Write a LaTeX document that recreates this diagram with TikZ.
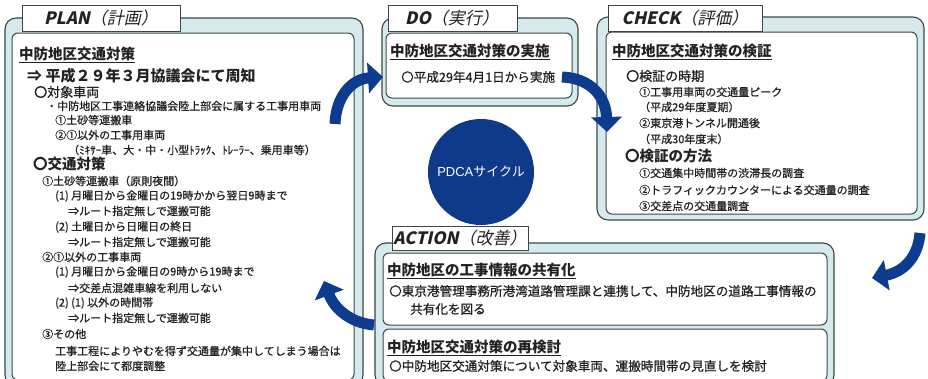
\documentclass[tikz,border=0pt]{standalone}
\usepackage{fontspec}
\setmainfont{Noto Sans CJK JP}
\newfontfamily\bodyfont{Noto Sans CJK JP}[FakeBold=0.8]
\newfontfamily\titlefont{Noto Sans CJK JP}[FakeSlant=0.22]
\newfontfamily\latinfont{Liberation Sans}
\usetikzlibrary{arrows.meta}
\definecolor{boxfill}{HTML}{D5EAEC}
\definecolor{boxline}{HTML}{3C4648}
\definecolor{arrowblue}{HTML}{0D3C8E}
\definecolor{circblue}{HTML}{0F3A8A}
\definecolor{ink}{HTML}{222222}
\begin{document}
\begin{tikzpicture}[x=1pt,y=-1pt,
  outerbox/.style={draw=boxline, fill=boxfill, line width=1.1pt, rounded corners=11pt},
  innerbox/.style={draw=boxline, fill=white, line width=1pt, rounded corners=6pt},
  tabbox/.style={draw=boxline, fill=white, line width=1pt},
  ttl/.style={inner sep=0, text=ink, font=\titlefont\fontsize{17}{17}\selectfont},
  hd/.style={anchor=west, inner sep=0, text=ink, font=\bfseries\fontsize{14.5}{16}\selectfont},
  big/.style={anchor=west, inner sep=0, text=ink, font=\bfseries\fontsize{15}{16}\selectfont},
  sub/.style={anchor=west, inner sep=0, text=ink, font=\bodyfont\fontsize{13}{15}\selectfont},
  subb/.style={anchor=west, inner sep=0, text=ink, font=\bfseries\fontsize{14.5}{16}\selectfont},
  txt/.style={anchor=west, inner sep=0, text=ink, font=\bodyfont\fontsize{11}{13}\selectfont},
  txtb/.style={anchor=west, inner sep=0, text=ink, font=\bodyfont\fontsize{12.6}{14}\selectfont},
  pdcaarrow/.style={draw=arrowblue, line width=11pt, -{Triangle[length=15pt,width=30pt]}}
]
\useasboundingbox (0,0) rectangle (928,378);
\fill[white] (0,0) rectangle (928,378);

% ---------- PLAN ----------
\path[outerbox] (5,18) rectangle (363,386);
\path[innerbox] (12,33) rectangle (354,380);
\path[tabbox] (22,5) rectangle (180,31);
\node[ttl] (plant) at (101,18) {{\bfseries PLAN}（計画）};
\node[hd] (p1) at (19,55) {\underline{中防地区交通対策}};
\node[big] (p2) at (27,76) {⇒ 平成２９年３月協議会にて周知};
\node[sub] (p3) at (34,92) {〇対象車両};
\node[txt] (p4) at (46,106) {・中防地区工事連絡協議会陸上部会に属する工事用車両};
\node[txt] (p5) at (55,120) {①土砂等運搬車};
\node[txt] (p6) at (55,135) {②①以外の工事用車両};
\node[txt] (p7) at (68,150) {（ﾐｷｻｰ車、大・中・小型ﾄﾗｯｸ、ﾄﾚｰﾗｰ、乗用車等）};
\node[subb] (p8) at (33,164) {〇交通対策};
\node[txt] (p9) at (42,181) {①土砂等運搬車（原則夜間）};
\node[txt] (p10) at (55,196) {(1) 月曜日から金曜日の19時かから翌日9時まで};
\node[txt] (p11) at (68,211) {⇒ルート指定無しで運搬可能};
\node[txt] (p12) at (55,227) {(2) 土曜日から日曜日の終日};
\node[txt] (p13) at (68,242) {⇒ルート指定無しで運搬可能};
\node[txt] (p14) at (42,257) {②①以外の工事車両};
\node[txt] (p15) at (55,272) {(1) 月曜日から金曜日の9時から19時まで};
\node[txt] (p16) at (68,288) {⇒交差点混雑車線を利用しない};
\node[txt] (p17) at (55,303) {(2) (1) 以外の時間帯};
\node[txt] (p18) at (68,318) {⇒ルート指定無しで運搬可能};
\node[txt] (p19) at (42,334) {③その他};
\node[txt] (p20) at (55,351) {工事工程によりやむを得ず交通量が集中してしまう場合は};
\node[txt] (p21) at (55,366) {陸上部会にて都度調整};

% ---------- DO ----------
\path[outerbox] (382,18) rectangle (578,106);
\path[innerbox] (386,33) rectangle (572,98);
\path[tabbox] (388,5) rectangle (517,31);
\node[ttl] (dot) at (452,18) {{\bfseries DO}（実行）};
\node[hd] (d1) at (390,52) {\underline{中防地区交通対策の実施}};
\node[txtb] (d2) at (401,77) {〇平成29年4月1日から実施};

% ---------- CHECK ----------
\path[outerbox] (597,17) rectangle (924,220);
\path[innerbox] (606,32) rectangle (917,214);
\path[tabbox] (608,5) rectangle (762,31);
\node[ttl] (chkt) at (685,18) {{\bfseries CHECK}（評価）};
\node[hd] (c1) at (612,52) {\underline{中防地区交通対策の検証}};
\node[sub] (c2) at (626,76) {〇検証の時期};
\node[txt] (c3) at (639,92) {①工事用車両の交通量ピーク};
\node[txt] (c4) at (639,107) {（平成29年度夏期）};
\node[txt] (c5) at (639,123) {②東京港トンネル開通後};
\node[txt] (c6) at (639,139) {（平成30年度末）};
\node[subb] (c7) at (625,156) {〇検証の方法};
\node[txt] (c8) at (639,173) {①交通集中時間帯の渋滞長の調査};
\node[txt] (c9) at (639,190) {②トラフィックカウンターによる交通量の調査};
\node[txt] (c10) at (639,206) {③交差点の交通量調査};

% ---------- ACTION ----------
\path[outerbox] (375,243) rectangle (834,386);
\path[innerbox] (383,253) rectangle (827,325);
\path[innerbox] (383,329) rectangle (827,381);
\path[tabbox] (392,226) rectangle (528,250);
\node[ttl] (actt) at (460,238) {{\bfseries ACTION}（改善）};
\node[hd] (a1) at (387,271) {\underline{中防地区の工事情報の共有化}};
\node[txtb] (a2) at (389,291) {〇東京港管理事務所港湾道路管理課と連携して、中防地区の道路工事情報の};
\node[txtb] (a3) at (410,309) {共有化を図る};
\node[hd] (a4) at (387,348) {\underline{中防地区交通対策の再検討}};
\node[txtb] (a5) at (389,366) {〇中防地区交通対策について対象車両、運搬時間帯の見直しを検討};

% ---------- PDCA circle ----------
\node[circle, fill=circblue, minimum size=106pt, inner sep=0, text=white,
      font=\latinfont\fontsize{13}{13}\selectfont] (pdca) at (481,172) {PDCA\fontspec{Noto Sans CJK JP}サイクル};

% ---------- arrows ----------
\coordinate (a1s) at (335,124);
\coordinate (a1e) at (383,77);
\coordinate (a2s) at (562,77);
\coordinate (a2e) at (607,132);
\coordinate (a3s) at (920,233);
\coordinate (a3e) at (872,278);
\coordinate (a4s) at (374,325);
\coordinate (a4e) at (324,281);
\draw[pdcaarrow] (a1s) .. controls (336,96) and (352,79) .. (a1e);
\draw[pdcaarrow] (a2s) .. controls (590,78) and (606,96) .. (a2e);
\draw[pdcaarrow] (a3s) .. controls (918,258) and (903,272) .. (a3e);
\draw[pdcaarrow] (a4s) .. controls (350,323) and (334,308) .. (a4e);
\end{tikzpicture}
\end{document}
